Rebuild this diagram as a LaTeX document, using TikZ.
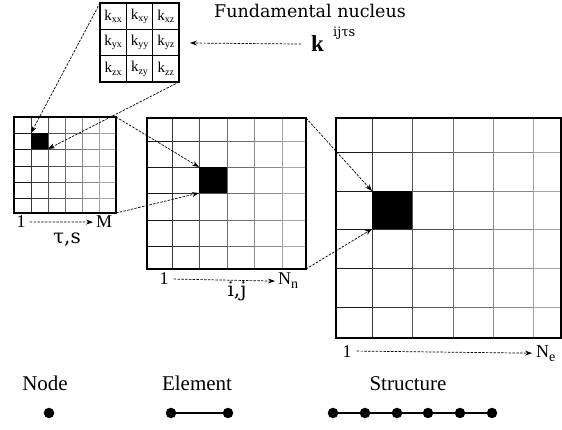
\documentclass[tikz,border=0pt]{standalone}
\usepackage{fontspec}
\setmainfont{Liberation Serif}
\newfontfamily\dvs{DejaVu Serif}
\usetikzlibrary{arrows.meta}
\newcommand\mygridx[4]{%
  \foreach \xa/\xb [count=\j from 0] in {#1} {%
    \pgfmathtruncatemacro\sh{90-11*\j}%
    \foreach \yy in {#2} \draw[gridl, draw=black!\sh] (\xa,\yy) -- (\xb,\yy);%
    \ifnum\j>0 \draw[gridl, draw=black!\sh] (\xa,#3) -- (\xa,#4);\fi
  }}
\newcommand\kk[1]{k\raisebox{-2.5pt}{\fontsize{10}{10}\selectfont #1}}
\begin{document}
\begin{tikzpicture}[x=1pt,y=-1pt,
  gridl/.style={line width=0.8pt},
  frame/.style={draw, line width=1.4pt, inner sep=0pt, outer sep=0pt, anchor=north west},
  blk/.style={fill=black, inner sep=0pt, outer sep=0pt, anchor=north west},
  conn/.style={line width=0.7pt, dash pattern=on 2.5pt off 1.3pt, -{Stealth[length=7pt,width=5pt]}},
  lab/.style={inner sep=0pt, font=\fontsize{18}{18}\selectfont},
  gk/.style={inner sep=0pt, font=\dvs\fontsize{20}{20}\selectfont, anchor=base},
  leg/.style={inner sep=0pt, font=\fontsize{21}{21}\selectfont, anchor=base},
  dot/.style={circle, fill=black, inner sep=0pt, minimum size=10.5pt},
  cell/.style={inner sep=0pt, font=\fontsize{15}{15}\selectfont}]
\useasboundingbox (0,0) rectangle (562,430);

% ---------- fundamental nucleus ----------
\node[frame, minimum width=79pt, minimum height=79pt] (nuc) at (100,3) {};
\draw[line width=0.9pt] (126.3,3) -- (126.3,82) (152.7,3) -- (152.7,82)
  (100,29.3) -- (179,29.3) (100,55.7) -- (179,55.7);
\node[cell] (kxx) at (113.2,16.2) {\kk{xx}};
\node[cell] (kxy) at (139.5,16.2) {\kk{xy}};
\node[cell] (kxz) at (165.8,16.2) {\kk{xz}};
\node[cell] (kyx) at (113.2,42.5) {\kk{yx}};
\node[cell] (kyy) at (139.5,42.5) {\kk{yy}};
\node[cell] (kyz) at (165.8,42.5) {\kk{yz}};
\node[cell] (kzx) at (113.2,68.8) {\kk{zx}};
\node[cell] (kzy) at (139.5,68.8) {\kk{zy}};
\node[cell] (kzz) at (165.8,68.8) {\kk{zz}};

\node[inner sep=0pt, anchor=base, font=\dvs\fontsize{17.5}{17.5}\selectfont] (fn) at (310,18) {Fundamental nucleus};
\node[inner sep=0pt, anchor=base west, font=\fontsize{23}{23}\selectfont\bfseries] (kb) at (311,52) {k};
\node[inner sep=0pt, anchor=base west, font=\dvs\fontsize{13}{13}\selectfont] (ksup) at (333,37) {ijτs};
\coordinate (ktip) at (190,43);
\draw[conn] ([xshift=-10pt]kb.west) -- (ktip);

% ---------- matrix 1 ----------
\mygridx{14/31,31/48,48/65,65/82,82/99,99/116}{133,149,166,182,198}{117}{213}
\node[blk, minimum width=17pt, minimum height=16pt] (c1) at (31,133) {};
\node[frame, minimum width=102pt, minimum height=96pt] (m1) at (14,117) {};
\node[lab, anchor=base] (o1) at (21,228) {1};
\node[lab, anchor=base west] (M1) at (96,228) {M};
\draw[conn] ([xshift=4pt]o1.east) -- ([xshift=-3pt]M1.west);
\node[gk] (ts) at (67,244) {τ,s};

% ---------- matrix 2 ----------
\mygridx{147/172,172/199,199/227,227/254,254/282,282/306}{141,167,193,220,246}{118}{269}
\node[blk, minimum width=28pt, minimum height=26pt] (c2) at (199,167) {};
\node[frame, minimum width=159pt, minimum height=151pt] (m2) at (147,118) {};
\node[lab, anchor=base] (o2) at (164,285) {1};
\node[lab, anchor=base west] (N2) at (278,285) {N\raisebox{-4pt}{\fontsize{14}{14}\selectfont n}};
\draw[conn] ([xshift=5pt]o2.east) -- ([xshift=-3pt]N2.west);
\node[gk] (ij) at (237,297) {i,j};

% ---------- matrix 3 ----------
\mygridx{336/372,372/412,412/453,453/493,493/533,533/561}{152,191,229,268,307}{118}{338}
\node[blk, minimum width=40pt, minimum height=38pt] (c3) at (372,191) {};
\node[frame, minimum width=225pt, minimum height=220pt] (m3) at (336,118) {};
\node[lab, anchor=base] (o3) at (347,357) {1};
\node[lab, anchor=base west] (N3) at (536,357) {N\raisebox{-4pt}{\fontsize{14}{14}\selectfont e}};
\draw[conn] ([xshift=5pt]o3.east) -- ([xshift=-4pt]N3.west);

% ---------- connectors ----------
\draw[conn] (nuc.north west) -- (c1.north west);
\draw[conn] (nuc.south east) -- (c1.south east);
\draw[conn] (m1.north east) -- (c2.north west);
\draw[conn] (m1.south east) -- (c2.south west);
\draw[conn] (m2.north east) -- (c3.north west);
\draw[conn] (m2.south east) -- (c3.south west);

% ---------- legend ----------
\node[leg] (lnode) at (45,390) {Node};
\node[leg] (lelem) at (197,390) {Element};
\node[leg] (lstruc) at (408,390) {Structure};
\node[dot] (d0) at (49,413) {};
\node[dot] (e1) at (171,413) {};
\node[dot] (e2) at (228,413) {};
\draw[line width=1.6pt] (e1) -- (e2);
\node[dot] (s1) at (333,413) {};
\node[dot] (s2) at (365,413) {};
\node[dot] (s3) at (397,413) {};
\node[dot] (s4) at (428,413) {};
\node[dot] (s5) at (460,413) {};
\node[dot] (s6) at (492,413) {};
\draw[line width=1.6pt] (s1) -- (s2) -- (s3) -- (s4) -- (s5) -- (s6);
\end{tikzpicture}
\end{document}
